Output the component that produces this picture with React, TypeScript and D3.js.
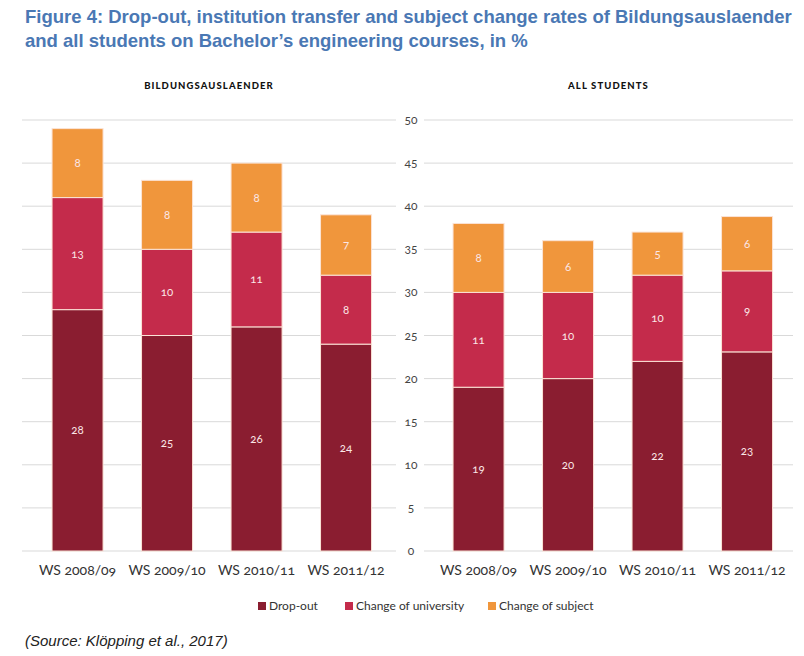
import React from "react";
import * as d3 from "d3";

const categories = ["WS 2008/09", "WS 2009/10", "WS 2010/11", "WS 2011/12"];
const seriesNames = ["Drop-out", "Change of university", "Change of subject"];
const leftDropout = [28, 25, 26, 24];
const leftUniversity = [13, 10, 11, 8];
const leftSubject = [8, 8, 8, 7];
const rightDropout = [19, 20, 22, 23.1];
const rightUniversity = [11, 10, 10, 9.4];
const rightSubject = [8, 6, 5, 6.3];
const yTicks = [0, 5, 10, 15, 20, 25, 30, 35, 40, 45, 50];
const panelTitles = ["BILDUNGSAUSLAENDER", "ALL STUDENTS"];
const colors = ["#8a1d30", "#c42b4b", "#f0963c"];

const W = 804;
const H = 656;
const FONT = "Lato, 'Open Sans', sans-serif";

function Panel({ x0, x1, gx0, gx1, title, series }: any) {
  const y = d3.scaleLinear().domain([0, 50]).range([551, 120]);
  const x = d3.scaleBand().domain(categories).range([x0, x1]).paddingInner(0.43).paddingOuter(0.215);
  const rows = categories.map((c, i) => ({ cat: c, d: series[0][i], u: series[1][i], s: series[2][i] }));
  const stacked = d3.stack<any>().keys(["d", "u", "s"])(rows);
  return (
    <g>
      <text x={(gx0 + gx1) / 2} y={89} textAnchor="middle" fontFamily={FONT} fontWeight={900} fontSize={9.5} letterSpacing={1.1} fill="#111">
        {title}
      </text>
      {yTicks.map((t) => (
        <line key={t} x1={gx0} x2={gx1} y1={y(t)} y2={y(t)} stroke="#d9d9d9" strokeWidth={1} />
      ))}
      {stacked.map((layer, li) => (
        <g key={li}>
          {layer.map((seg: any, i: number) => (
            <g key={i}>
              <rect
                x={x(categories[i])}
                y={y(seg[1])}
                width={x.bandwidth()}
                height={y(seg[0]) - y(seg[1])}
                fill={colors[li]}
                stroke="#fbe3d6"
                strokeWidth={1}
              />
              <text
                x={(x(categories[i]) as number) + x.bandwidth() / 2}
                y={(y(seg[0]) + y(seg[1])) / 2 + 4}
                textAnchor="middle"
                fontFamily={FONT}
                fontSize={11.5}
                fill="#fbe7e7"
                style={{ fontVariantNumeric: "oldstyle-nums" }}
              >
                {Math.round(seg[1] - seg[0])}
              </text>
            </g>
          ))}
        </g>
      ))}
      {categories.map((c) => (
        <text key={c} x={(x(c) as number) + x.bandwidth() / 2} y={575} textAnchor="middle" fontFamily={FONT} fontSize={14} fill="#333" style={{ fontVariantNumeric: "oldstyle-nums" }}>
          {c}
        </text>
      ))}
    </g>
  );
}

export default function App() {
  const y = d3.scaleLinear().domain([0, 50]).range([551, 120]);
  const legendX = [258, 345, 488];
  return (
    <svg width={W} height={H} style={{ position: "absolute", left: 0, top: 0, background: "#fff" }}>
      <rect width={W} height={H} fill="#fff" />
      <text x={25} y={23} fontFamily="'Liberation Sans', Arial, sans-serif" fontWeight="bold" fontSize={18.5} fill="#4a78b4">
        Figure 4: Drop-out, institution transfer and subject change rates of Bildungsauslaender
      </text>
      <text x={25} y={47} fontFamily="'Liberation Sans', Arial, sans-serif" fontWeight="bold" fontSize={18.5} fill="#4a78b4">
        and all students on Bachelor’s engineering courses, in %
      </text>
      <Panel x0={32.8} x1={390.8} gx0={22} gx1={396} title={panelTitles[0]} series={[leftDropout, leftUniversity, leftSubject]} />
      <Panel x0={433.8} x1={791.8} gx0={424} gx1={793} title={panelTitles[1]} series={[rightDropout, rightUniversity, rightSubject]} />
      {yTicks.map((t) => (
        <text key={t} x={411} y={y(t) + 4} textAnchor="middle" fontFamily={FONT} fontSize={12} fill="#444" style={{ fontVariantNumeric: "oldstyle-nums" }}>
          {t}
        </text>
      ))}
      {seriesNames.map((n, i) => (
        <g key={n}>
          <rect x={legendX[i]} y={602} width={8} height={8} fill={colors[i]} />
          <text x={legendX[i] + 11} y={610} fontFamily={FONT} fontSize={12} fill="#333">
            {n}
          </text>
        </g>
      ))}
      <text x={25} y={646} fontFamily="'Liberation Sans', Arial, sans-serif" fontStyle="italic" fontSize={15} fill="#222">
        (Source: Klöpping et al., 2017)
      </text>
    </svg>
  );
}
